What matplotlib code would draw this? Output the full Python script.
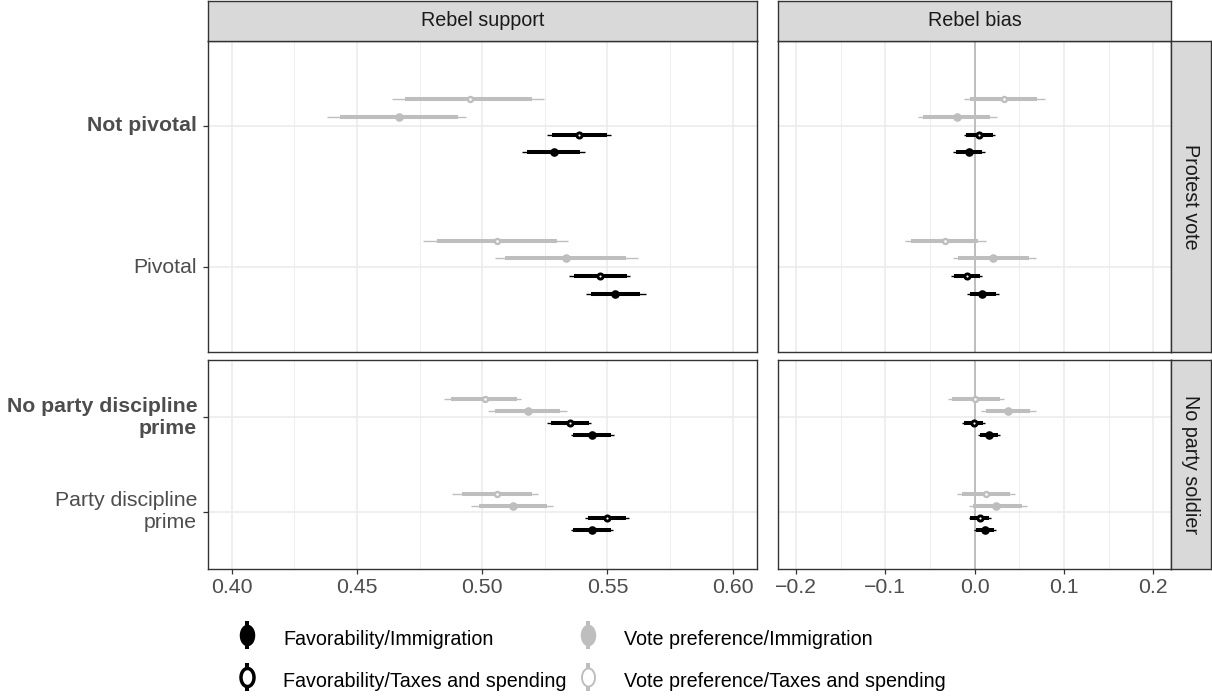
import matplotlib
matplotlib.use("Agg")
import matplotlib.pyplot as plt
from matplotlib.lines import Line2D
from matplotlib.legend_handler import HandlerTuple
from matplotlib.ticker import MultipleLocator
from matplotlib.path import Path
import numpy as np

plt.rcParams['font.family'] = ['Liberation Sans', 'DejaVu Sans']

# ---------------- data ----------------
series = ["Vote preference/Taxes and spending", "Vote preference/Immigration",
          "Favorability/Taxes and spending", "Favorability/Immigration"]
series_color = ["#BEBEBE", "#BEBEBE", "#000000", "#000000"]
series_open = [True, False, True, False]

col_titles = ["Rebel support", "Rebel bias"]
row_titles = ["Protest vote", "No party soldier"]
cats_protest = ["Not pivotal", "Pivotal"]
cats_soldier = ["No party discipline\nprime", "Party discipline\nprime"]
bold_cats = ["Not pivotal", "No party discipline\nprime"]

support_ticks = [0.40, 0.45, 0.50, 0.55, 0.60]
support_ticklabels = ["0.40", "0.45", "0.50", "0.55", "0.60"]
bias_ticks = [-0.2, -0.1, 0.0, 0.1, 0.2]
bias_ticklabels = ["\u22120.2", "\u22120.1", "0.0", "0.1", "0.2"]

# rows: categories, columns: series (same order as `series`)
support_protest_est = [[0.4951, 0.4666, 0.5387, 0.5287], [0.5059, 0.5335, 0.5470, 0.5531]]
support_protest_lo_in = [[0.4692, 0.4432, 0.5280, 0.5179], [0.4819, 0.5091, 0.5368, 0.5435]]
support_protest_hi_in = [[0.5197, 0.4902, 0.5497, 0.5390], [0.5300, 0.5575, 0.5577, 0.5628]]
support_protest_lo_out = [[0.4639, 0.4382, 0.5257, 0.5159], [0.4763, 0.5051, 0.5347, 0.5415]]
support_protest_hi_out = [[0.5248, 0.4936, 0.5513, 0.5411], [0.5342, 0.5623, 0.5590, 0.5654]]

bias_protest_est = [[0.0325, -0.0198, 0.0049, -0.0063], [-0.0329, 0.0202, -0.0090, 0.0086]]
bias_protest_lo_in = [[-0.0056, -0.0579, -0.0093, -0.0205], [-0.0717, -0.0187, -0.0235, -0.0056]]
bias_protest_hi_in = [[0.0702, 0.0168, 0.0205, 0.0086], [0.0037, 0.0609, 0.0056, 0.0243]]
bias_protest_lo_out = [[-0.0116, -0.0639, -0.0123, -0.0239], [-0.0784, -0.0239, -0.0269, -0.0086]]
bias_protest_hi_out = [[0.0792, 0.0254, 0.0228, 0.0116], [0.0127, 0.0683, 0.0086, 0.0269]]

support_soldier_est = [[0.5009, 0.5183, 0.5349, 0.5439], [0.5057, 0.5121, 0.5497, 0.5439]]
support_soldier_lo_in = [[0.4876, 0.5050, 0.5274, 0.5364], [0.4921, 0.4986, 0.5421, 0.5364]]
support_soldier_hi_in = [[0.5140, 0.5311, 0.5426, 0.5514], [0.5200, 0.5257, 0.5574, 0.5514]]
support_soldier_lo_out = [[0.4849, 0.5021, 0.5257, 0.5353], [0.4881, 0.4957, 0.5409, 0.5353]]
support_soldier_hi_out = [[0.5154, 0.5339, 0.5436, 0.5526], [0.5223, 0.5281, 0.5586, 0.5523]]

bias_soldier_est = [[0.0007, 0.0373, -0.0011, 0.0160], [0.0123, 0.0243, 0.0056, 0.0112]]
bias_soldier_lo_in = [[-0.0254, 0.0131, -0.0116, 0.0056], [-0.0142, -0.0019, -0.0049, 0.0011]]
bias_soldier_hi_in = [[0.0280, 0.0623, 0.0093, 0.0261], [0.0399, 0.0530, 0.0160, 0.0213]]
bias_soldier_lo_out = [[-0.0302, 0.0071, -0.0138, 0.0037], [-0.0198, -0.0067, -0.0067, -0.0011]]
bias_soldier_hi_out = [[0.0325, 0.0687, 0.0119, 0.0287], [0.0448, 0.0586, 0.0183, 0.0239]]

# legend entries: (series index, column, row)
legend_layout = [(3, 0, 0), (2, 0, 1), (1, 1, 0), (0, 1, 1)]

# ---------------- layout ----------------
W, H = 1212, 697
fig = plt.figure(figsize=(W / 100, H / 100), dpi=100)

def px_axes(x0, y0, x1, y1):
    return fig.add_axes([x0 / W, 1 - y1 / H, (x1 - x0) / W, (y1 - y0) / H])

FS = 14.2        # strip + legend text
FS_AX = 15.3     # axis tick labels
BORDER = "#333333"
GRID = "#EBEBEB"
AXTXT = "#4D4D4D"

LX = (208, 757)
RX = (778.3, 1170.7)
TY = (41, 352)
BY = (360, 569)

offsets = [0.1875, 0.0625, -0.0625, -0.1875]
cat_pos = [2, 1]

def style_axes(ax, xlim, major, minor):
    ax.set_xlim(*xlim)
    ax.set_ylim(0.4, 2.6)
    ax.set_facecolor("white")
    ax.xaxis.set_major_locator(MultipleLocator(major))
    ax.xaxis.set_minor_locator(MultipleLocator(minor))
    ax.grid(True, which="major", axis="both", color=GRID, lw=1.1, zorder=0)
    ax.grid(True, which="minor", axis="x", color=GRID, lw=0.6, zorder=0)
    ax.set_axisbelow(True)
    for s in ax.spines.values():
        s.set_color(BORDER)
        s.set_linewidth(1.0)
        s.set_zorder(5)
    ax.tick_params(which="minor", length=0)
    ax.tick_params(which="major", length=3.8, width=0.9, color=BORDER,
                   labelsize=FS_AX, labelcolor=AXTXT, pad=2.5)

def draw(ax, est, lo_in, hi_in, lo_out, hi_out):
    for i, cp in enumerate(cat_pos):
        for j in range(len(series)):
            y = cp + offsets[j]
            c = series_color[j]
            ax.hlines(y, lo_out[i][j], hi_out[i][j], color=c, lw=1.0, zorder=2)
            ax.hlines(y, lo_in[i][j], hi_in[i][j], color=c, lw=2.9, zorder=2)
            if series_open[j]:
                if c == "#000000":
                    ax.plot([est[i][j]], [y], marker="o", ms=3.7, mew=2.1,
                            mfc="white", mec=c, ls="none", zorder=3)
                else:
                    ax.plot([est[i][j]], [y], marker="o", ms=3.6, mew=1.7,
                            mfc="white", mec=c, ls="none", zorder=3)
            else:
                ax.plot([est[i][j]], [y], marker="o", ms=6.2, mew=0,
                        mfc=c, ls="none", zorder=3)

panels = [
    (LX, TY, (0.3905, 0.6097), 0.05, 0.025, cats_protest,
     (support_protest_est, support_protest_lo_in, support_protest_hi_in,
      support_protest_lo_out, support_protest_hi_out), True, False, support_ticks, support_ticklabels),
    (RX, TY, (-0.2198, 0.2195), 0.1, 0.05, cats_protest,
     (bias_protest_est, bias_protest_lo_in, bias_protest_hi_in,
      bias_protest_lo_out, bias_protest_hi_out), False, False, bias_ticks, bias_ticklabels),
    (LX, BY, (0.3905, 0.6097), 0.05, 0.025, cats_soldier,
     (support_soldier_est, support_soldier_lo_in, support_soldier_hi_in,
      support_soldier_lo_out, support_soldier_hi_out), True, True, support_ticks, support_ticklabels),
    (RX, BY, (-0.2198, 0.2195), 0.1, 0.05, cats_soldier,
     (bias_soldier_est, bias_soldier_lo_in, bias_soldier_hi_in,
      bias_soldier_lo_out, bias_soldier_hi_out), False, True, bias_ticks, bias_ticklabels),
]

for (xr, yr, xlim, major, minor, cats, vals, show_y, show_x, xt, xtl) in panels:
    ax = px_axes(xr[0], yr[0], xr[1], yr[1])
    style_axes(ax, xlim, major, minor)
    ax.set_yticks(cat_pos)
    if show_y:
        ax.set_yticklabels(cats, ha="right", va="center")
        ax.tick_params(axis="y", pad=4)
        for lab in ax.get_yticklabels():
            if lab.get_text() in bold_cats:
                lab.set_fontweight("bold")
    else:
        ax.tick_params(axis="y", length=0, labelleft=False)
    ax.set_xticks(xt)
    if show_x:
        ax.set_xticklabels(xtl)
    else:
        ax.tick_params(axis="x", which="major", length=0, labelbottom=False)
    if xlim[0] < 0:
        ax.axvline(0, color="#BEBEBE", lw=1.4, zorder=1.5)
    draw(ax, *vals)

def strip(x0, y0, x1, y1, text, rot):
    sa = px_axes(x0, y0, x1, y1)
    sa.set_facecolor("#D9D9D9")
    sa.set_xticks([])
    sa.set_yticks([])
    for s in sa.spines.values():
        s.set_color(BORDER)
        s.set_linewidth(1.0)
    sa.text(0.5, 0.5, text, transform=sa.transAxes, ha="center", va="center",
            rotation=rot, fontsize=FS, color="#1A1A1A")

strip(LX[0], 1, LX[1], 41, col_titles[0], 0)
strip(RX[0], 1, RX[1], 41, col_titles[1], 0)
strip(1171.2, TY[0], 1210.5, TY[1], row_titles[0], -90)
strip(1171.2, BY[0], 1210.5, BY[1], row_titles[1], -90)

# ---------------- legend ----------------
t = np.linspace(0, 2 * np.pi, 64)
ellipse = Path(np.column_stack([0.72 * np.cos(t), np.sin(t)]), closed=True)

key_x = [247, 588]      # key centres (px)
row_y = [638, 680]      # row centres (px)
HL = 1.5                # handle length in em
em = FS * 100 / 72
for (j, col, row) in legend_layout:
    c = series_color[j]
    vline = Line2D([], [], marker="|", ms=19.5, mew=2.9, color=c, ls="none")
    if series_open[j]:
        if c == "#000000":
            pt = Line2D([], [], marker=ellipse, ms=13.0, mew=2.5, mfc="white", mec=c, ls="none")
        else:
            pt = Line2D([], [], marker=ellipse, ms=13.0, mew=1.4, mfc="white", mec=c, ls="none")
    else:
        pt = Line2D([], [], marker=ellipse, ms=15.5, mew=0, mfc=c, ls="none")
    x_start = key_x[col] - HL * em / 2
    pad = (key_x[col] + 36 - (key_x[col] + HL * em / 2)) / em
    leg = fig.legend([(vline, pt)], [series[j]], loc="center left",
                     bbox_to_anchor=(x_start / W, 1 - row_y[row] / H),
                     frameon=False, handler_map={tuple: HandlerTuple(ndivide=1)},
                     handlelength=HL, handleheight=1.5, handletextpad=pad,
                     borderpad=0, borderaxespad=0, fontsize=FS)

fig.savefig("out.png", dpi=100)
